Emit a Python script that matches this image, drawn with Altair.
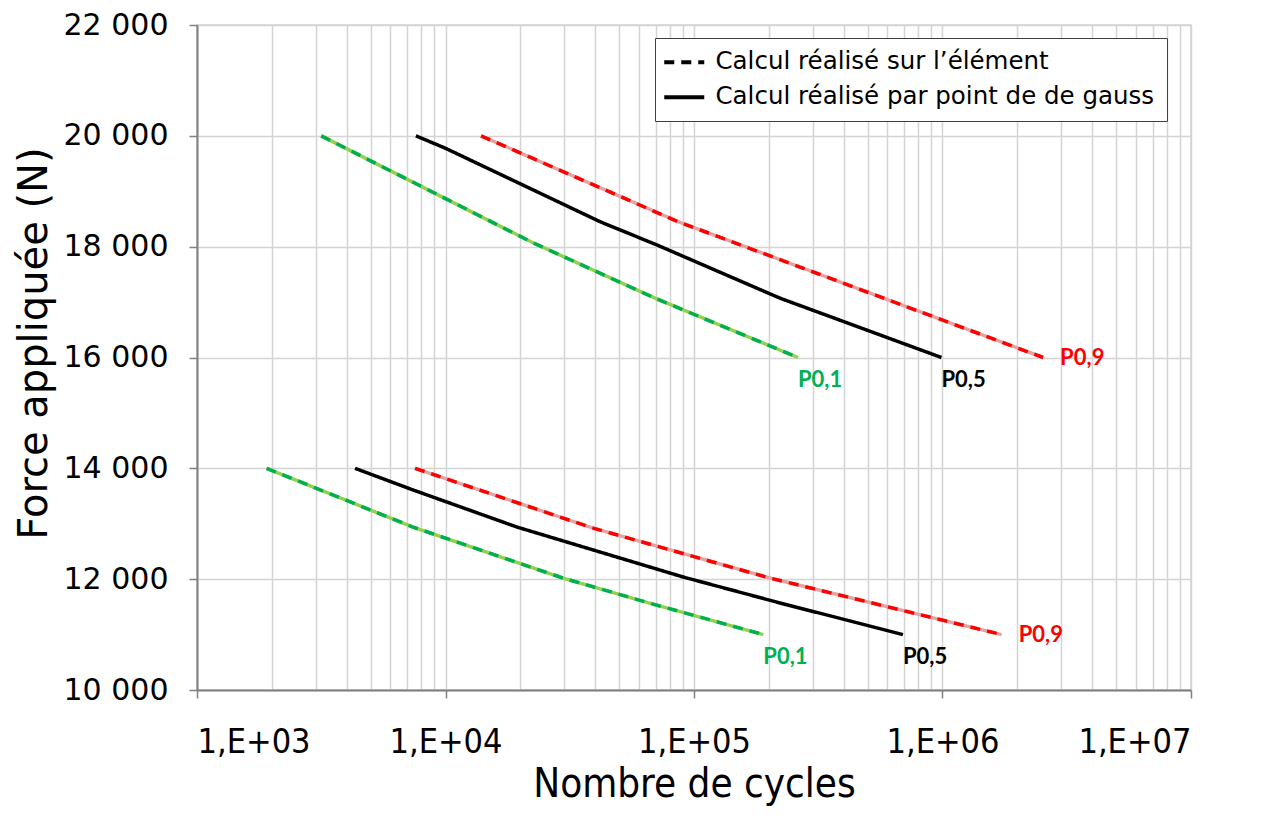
import altair as alt
import pandas as pd

# ---- data ----
METHOD_ELEM = "Calcul réalisé sur l’élément"
METHOD_GAUSS = "Calcul réalisé par point de de gauss"

# upper group (20 000 -> 16 000 N)
G_UP_N = [3160, 22500, 69700, 262000]
G_UP_F = [20000, 18070, 17070, 16000]
B_UP_N = [7600, 9950, 41900, 71000, 222000, 990000]
B_UP_F = [20000, 19780, 18450, 18030, 17070, 16000]
R_UP_N = [13900, 86300, 2540000]
R_UP_F = [20000, 18450, 16000]

# lower group (14 000 -> 11 000 N)
G_LO_N = [1905, 7400, 29700, 68400, 190000]
G_LO_F = [14000, 12940, 12020, 11550, 11000]
B_LO_N = [4325, 7400, 19400, 90300, 222000, 693000]
B_LO_F = [14000, 13610, 12940, 12040, 11570, 11000]
R_LO_N = [7540, 39300, 202000, 1730000]
R_LO_F = [14000, 12920, 12020, 11000]

Y_TICKS = [10000, 12000, 14000, 16000, 18000, 20000, 22000]
X_MAJOR = [1e3, 1e4, 1e5, 1e6, 1e7]

rows = []
def add(sid, label, method, dark, light, ns, fs):
    for i, (n, f) in enumerate(zip(ns, fs)):
        rows.append(dict(sid=sid, label=label, method=method, dark=dark,
                         light=light, N=n, F=f, i=i, last=(i == len(ns) - 1)))

add("g_up", "P0,1", METHOD_ELEM, "#00B050", "#92D050", G_UP_N, G_UP_F)
add("b_up", "P0,5", METHOD_GAUSS, "#000000", "", B_UP_N, B_UP_F)
add("r_up", "P0,9", METHOD_ELEM, "#FF0000", "#E6A3A3", R_UP_N, R_UP_F)
add("g_lo", "P0,1", METHOD_ELEM, "#00B050", "#92D050", G_LO_N, G_LO_F)
add("b_lo", "P0,5", METHOD_GAUSS, "#000000", "", B_LO_N, B_LO_F)
add("r_lo", "P0,9", METHOD_ELEM, "#FF0000", "#E6A3A3", R_LO_N, R_LO_F)
df = pd.DataFrame(rows)

grid_vals = []
for d in X_MAJOR[:-1]:
    for k in range(1, 10):
        grid_vals.append(d * k)
grid_vals.append(X_MAJOR[-1])

is_major = "abs(log(datum.value)/LN10 - round(log(datum.value)/LN10)) < 0.001"

x_enc = alt.X(
    "N:Q",
    scale=alt.Scale(type="log", domain=[1e3, 1e7], nice=False),
    axis=alt.Axis(
        values=grid_vals,
        title="Nombre de cycles",
        labelExpr=f"({is_major}) ? '1,E+0' + round(log(datum.value)/LN10) : ''",
        labelOverlap=False,
        labelFont="DejaVu Sans Condensed",
        labelFontSize=34,
        labelColor="#000000",
        labelPadding=27,
        tickOpacity={"expr": f"({is_major}) ? 1 : 0"},
        tickSize=8,
        tickColor="#808080",
        tickWidth=1.5,
        grid=True,
        gridColor="#D4D4D4",
        gridWidth=1.5,
        domainColor="#808080",
        domainWidth=2,
        titleFont="DejaVu Sans Condensed",
        titleFontSize=40,
        titleFontWeight="normal",
        titleColor="#000000",
        titlePadding=5,
    ),
)
y_enc = alt.Y(
    "F:Q",
    scale=alt.Scale(domain=[10000, 22000], nice=False, zero=False),
    axis=alt.Axis(
        values=Y_TICKS,
        title="Force appliquée (N)",
        labelExpr="replace(format(datum.value, ','), ',', ' ')",
        labelFont="DejaVu Sans",
        labelFontSize=30,
        labelColor="#000000",
        labelPadding=21,
        tickSize=8,
        tickColor="#808080",
        tickWidth=1.5,
        grid=True,
        gridColor="#D4D4D4",
        gridWidth=1.5,
        domainColor="#808080",
        domainWidth=2,
        titleFont="DejaVu Sans",
        titleFontSize=40,
        titleFontWeight="normal",
        titleColor="#000000",
        titleX=-163,
        titleY=318,
        titleAngle=270,
        titleAlign="center",
        titleBaseline="middle",
    ),
)

base = alt.Chart(df)

under = base.transform_filter("datum.light != ''").mark_line(strokeWidth=3.5).encode(
    x=x_enc, y=y_enc, detail="sid:N", order="i:Q",
    color=alt.Color("light:N", scale=None),
)

main = base.mark_line(strokeWidth=3.5).encode(
    x=x_enc, y=y_enc, detail="sid:N", order="i:Q",
    color=alt.Color("dark:N", scale=None),
    strokeDash=alt.StrokeDash(
        "method:N",
        scale=alt.Scale(domain=[METHOD_ELEM, METHOD_GAUSS], range=[[10, 7], [1, 0]]),
        legend=alt.Legend(
            title=None,
            orient="none",
            legendX=458,
            legendY=13,
            direction="vertical",
            symbolType="M-1.5,0H2.5",
            symbolSize=400,
            symbolStrokeWidth=4,
            symbolStrokeColor="#000000",
            labelFont="DejaVu Sans",
            labelFontSize=24.5,
            labelColor="#000000",
            labelLimit=700,
            labelExpr="datum.label + '\u2002\u2002'",
            rowPadding=10,
            padding=12,
            fillColor="#FFFFFF",
            strokeColor="#404040",
            labelOffset=24,
        ),
    ),
)

ends = base.transform_filter("datum.last")

txt_below = ends.transform_filter("datum.label != 'P0,9'").mark_text(
    align="left", baseline="middle", dx=0, dy=22,
    font="Lato", fontWeight="bold", fontSize=22,
).encode(x=x_enc, y=y_enc, text="label:N", color=alt.Color("dark:N", scale=None))

txt_right = ends.transform_filter("datum.label == 'P0,9'").mark_text(
    align="left", baseline="middle", dx=17, dy=0,
    font="Lato", fontWeight="bold", fontSize=22,
).encode(x=x_enc, y=y_enc, text="label:N", color=alt.Color("dark:N", scale=None))

chart = alt.layer(under, main, txt_below, txt_right).properties(
    width=994,
    height=665,
    autosize=alt.AutoSizeParams(type="none"),
    padding={"left": 189, "top": 17, "right": 60, "bottom": 117},
    background="#FFFFFF",
).configure_view(stroke="#D4D4D4", strokeWidth=1.5)

chart.save("out.html", embed_options={"renderer": "svg", "actions": False})
